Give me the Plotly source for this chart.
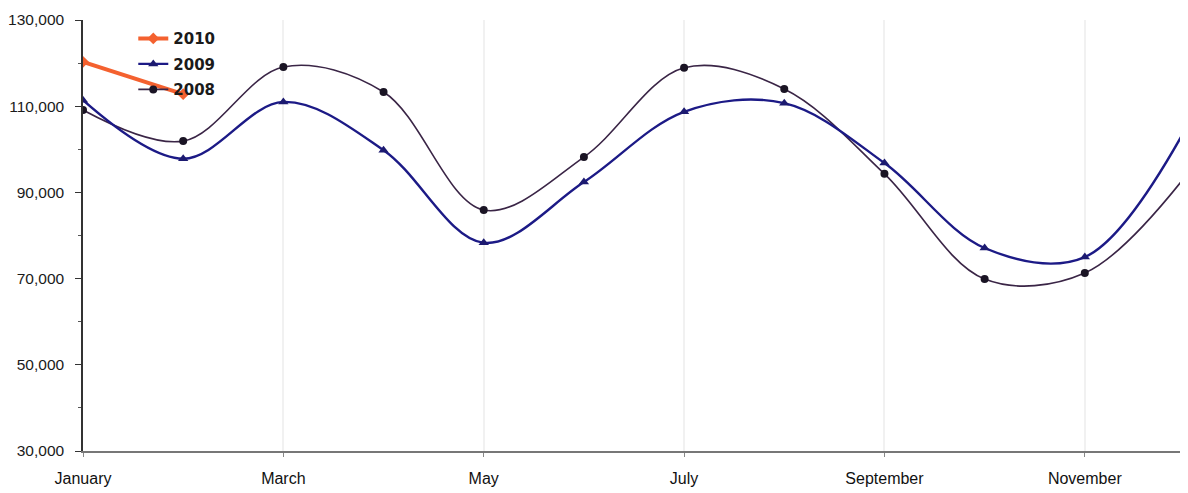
import plotly.graph_objects as go

months = ["January", "February", "March", "April", "May", "June", "July",
          "August", "September", "October", "November", "December"]
tick_labels = ["January", "March", "May", "July", "September", "November"]

v2010 = [120300, 112800]
v2009 = [111400, 97800, 111000, 99800, 78300, 92400, 108700, 110700, 96800, 77100, 75000, 104500]
v2008 = [109100, 101900, 119100, 113300, 85900, 98200, 118900, 114000, 94300, 69900, 71300, 93600]

x_all = list(range(len(months)))

fig = go.Figure()
fig.add_trace(go.Scatter(
    x=x_all, y=v2008, name="2008", mode="lines+markers", legendgroup="g2008", legendrank=3,
    line=dict(color="#3a2546", width=1.6, shape="spline", smoothing=1.0),
    marker=dict(symbol="circle", size=8, color="#1a1424"),
))
fig.add_trace(go.Scatter(
    x=x_all, y=v2009, name="2009", mode="lines+markers", legendgroup="g2009", legendrank=2,
    line=dict(color="#1c1a86", width=2.4, shape="spline", smoothing=1.0),
    marker=dict(symbol="triangle-up", size=9, color="#1c1a70"),
))
fig.add_trace(go.Scatter(
    x=x_all[:len(v2010)], y=v2010, name="2010", mode="lines+markers", legendgroup="g2010", legendrank=1,
    line=dict(color="#f4612f", width=4),
    marker=dict(symbol="diamond", size=9, color="#f4612f"),
))

tickvals = [months.index(m) for m in tick_labels]

fig.update_layout(
    width=1180, height=485,
    margin=dict(l=75, r=0, t=12, b=42, autoexpand=False),
    paper_bgcolor="white", plot_bgcolor="white",
    showlegend=True,
    legend=dict(
        x=0.0455, y=0.995, xanchor="left", yanchor="top",
        traceorder="grouped", bgcolor="rgba(0,0,0,0)",
        font=dict(family="DejaVu Sans", size=15, color="#1a1a1a", weight="bold"),
        tracegroupgap=3,
    ),
    font=dict(family="Liberation Sans, Arial", color="#222222"),
)
fig.update_xaxes(
    automargin=False,
    range=[0, 11.03],
    tickmode="array", tickvals=tickvals, ticktext=tick_labels,
    showgrid=True, gridcolor="#f1f1f1", gridwidth=2,
    showline=True, linecolor="#777777", linewidth=1.5,
    ticks="outside", ticklen=4, tickcolor="#888888",
    ticklabelstandoff=8,
    tickfont=dict(size=16, color="#111111"),
    zeroline=False,
)
fig.update_yaxes(
    automargin=False,
    range=[30000, 130000],
    tickvals=[30000, 50000, 70000, 90000, 110000, 130000],
    tickformat=",",
    showgrid=False,
    showline=True, linecolor="#333333", linewidth=1.5,
    ticks="outside", ticklen=6, tickcolor="#333333",
    ticklabelstandoff=8,
    minor=dict(tickvals=[40000, 60000, 80000, 100000, 120000], ticks="outside",
               ticklen=3, tickcolor="#555555"),
    tickfont=dict(size=15.5, color="#1a1a1a"),
    zeroline=False,
)

fig.write_html("out.html")
